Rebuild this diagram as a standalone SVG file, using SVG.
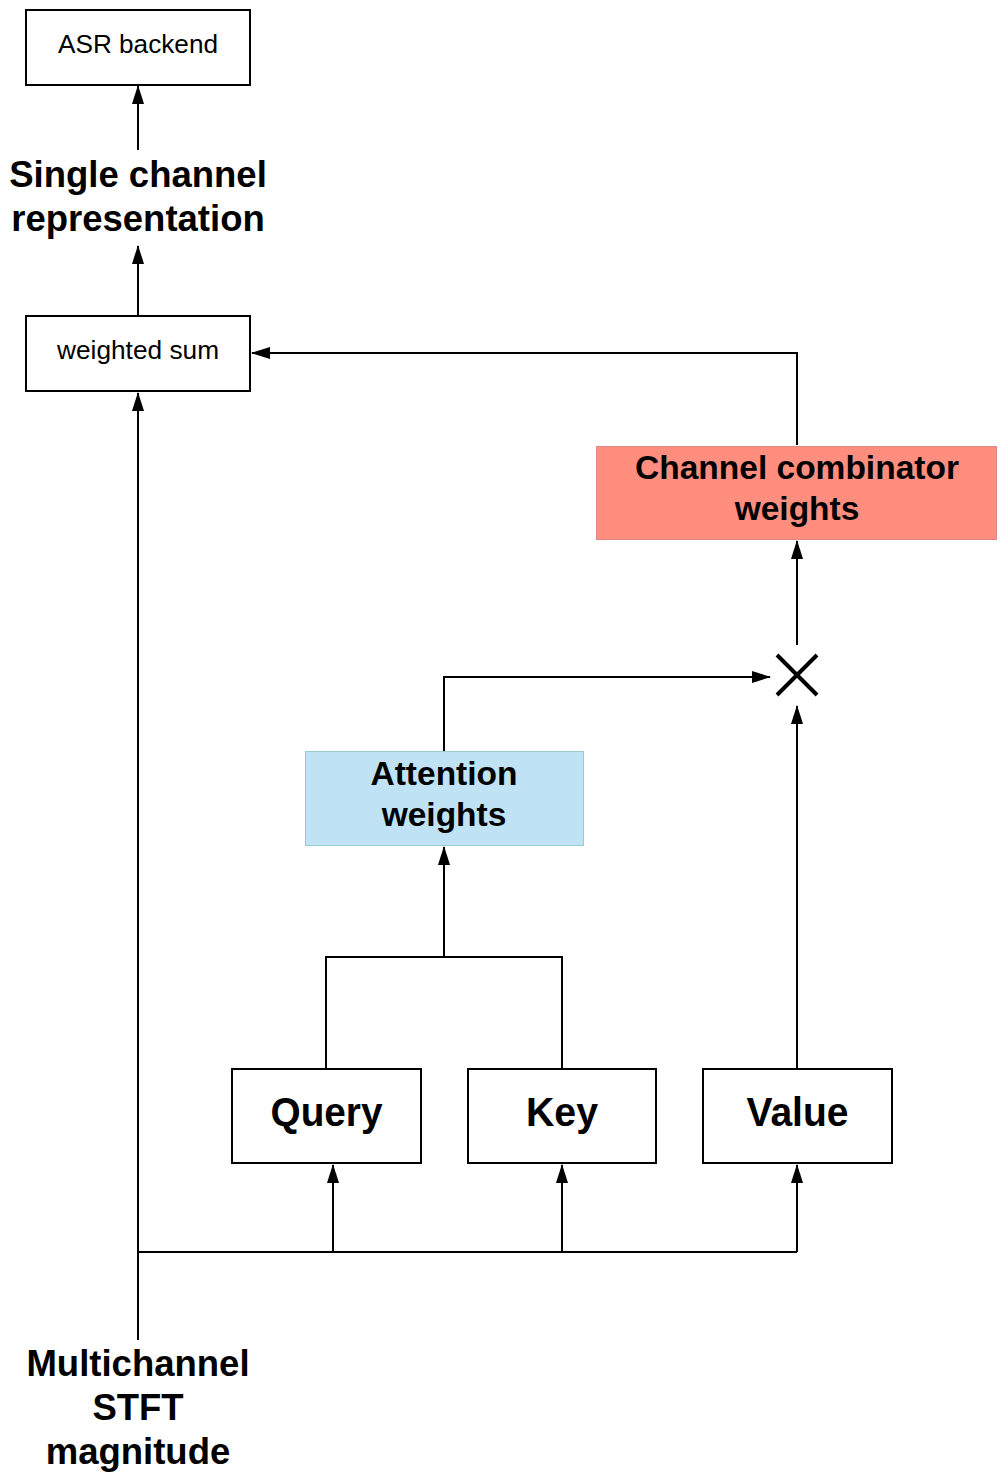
<svg xmlns="http://www.w3.org/2000/svg" width="1002" height="1474" viewBox="0 0 1002 1474">
<style>
.box{fill:#fff;stroke:#000;stroke-width:2}
.t{font-family:"Liberation Sans",Arial,sans-serif;fill:#000;text-anchor:middle}
.r{font-size:25px}
.b{font-size:36.5px;font-weight:bold}
.m{font-size:33.5px;font-weight:bold}
.q{font-size:40px;font-weight:bold}
.c{fill:none;stroke:#000;stroke-width:2}
</style>
<defs>
<marker id="ah" markerWidth="19" markerHeight="12" refX="18" refY="6" orient="auto" markerUnits="userSpaceOnUse">
<path d="M0,0 L19,6 L0,12 z" fill="#000"/>
</marker>
</defs>
<rect width="1002" height="1474" fill="#fff"/>
<g id="connectors">
<path class="c" d="M138,150 V86" marker-end="url(#ah)"/>
<path class="c" d="M138,315 V246" marker-end="url(#ah)"/>
<path class="c" d="M797,445 V353 H252" marker-end="url(#ah)"/>
<path class="c" d="M797,645 V541" marker-end="url(#ah)"/>
<path class="c" d="M444,751 V677 H770" marker-end="url(#ah)"/>
<path class="c" d="M797,1068 V706" marker-end="url(#ah)"/>
<path class="c" d="M444,957 V847" marker-end="url(#ah)"/>
<path class="c" d="M326,1068 V957 H562 V1068"/>
<path class="c" d="M138,1340 V393" marker-end="url(#ah)"/>
<path class="c" d="M138,1252 H797"/>
<path class="c" d="M333,1252 V1165" marker-end="url(#ah)"/>
<path class="c" d="M562,1252 V1165" marker-end="url(#ah)"/>
<path class="c" d="M797,1252 V1165" marker-end="url(#ah)"/>
</g>
<g id="asr">
<rect class="box" x="26" y="10" width="224" height="75"/>
<text class="t r" x="138" y="53" textLength="160" lengthAdjust="spacingAndGlyphs">ASR backend</text>
</g>
<g id="single">
<text class="t b" x="138" y="187">Single channel</text>
<text class="t b" x="138" y="231">representation</text>
</g>
<g id="wsum">
<rect class="box" x="26" y="316" width="224" height="75"/>
<text class="t r" x="138" y="359" textLength="162" lengthAdjust="spacingAndGlyphs">weighted sum</text>
</g>
<g id="ccw">
<rect x="596.5" y="446.5" width="400" height="93" fill="#FF8E7F" stroke="#d88" stroke-width="1"/>
<text class="t m" x="797" y="479">Channel combinator</text>
<text class="t m" x="797" y="520">weights</text>
</g>
<g id="mult">
<path d="M777,655 L817,695 M817,655 L777,695" stroke="#000" stroke-width="4" fill="none"/>
</g>
<g id="att">
<rect x="305.5" y="751.5" width="278" height="94" fill="#BFE3F5" stroke="#9cc" stroke-width="1"/>
<text class="t m" x="444" y="785">Attention</text>
<text class="t m" x="444" y="826">weights</text>
</g>
<g id="query">
<rect class="box" x="232" y="1069" width="189" height="94"/>
<text class="t q" x="326.5" y="1126" textLength="112" lengthAdjust="spacingAndGlyphs">Query</text>
</g>
<g id="key">
<rect class="box" x="468" y="1069" width="188" height="94"/>
<text class="t q" x="562" y="1126" textLength="72" lengthAdjust="spacingAndGlyphs">Key</text>
</g>
<g id="value">
<rect class="box" x="703" y="1069" width="189" height="94"/>
<text class="t q" x="797.5" y="1126" textLength="102" lengthAdjust="spacingAndGlyphs">Value</text>
</g>
<g id="input">
<text class="t b" x="138" y="1376">Multichannel</text>
<text class="t b" x="138" y="1420">STFT</text>
<text class="t b" x="138" y="1464">magnitude</text>
</g>
</svg>
